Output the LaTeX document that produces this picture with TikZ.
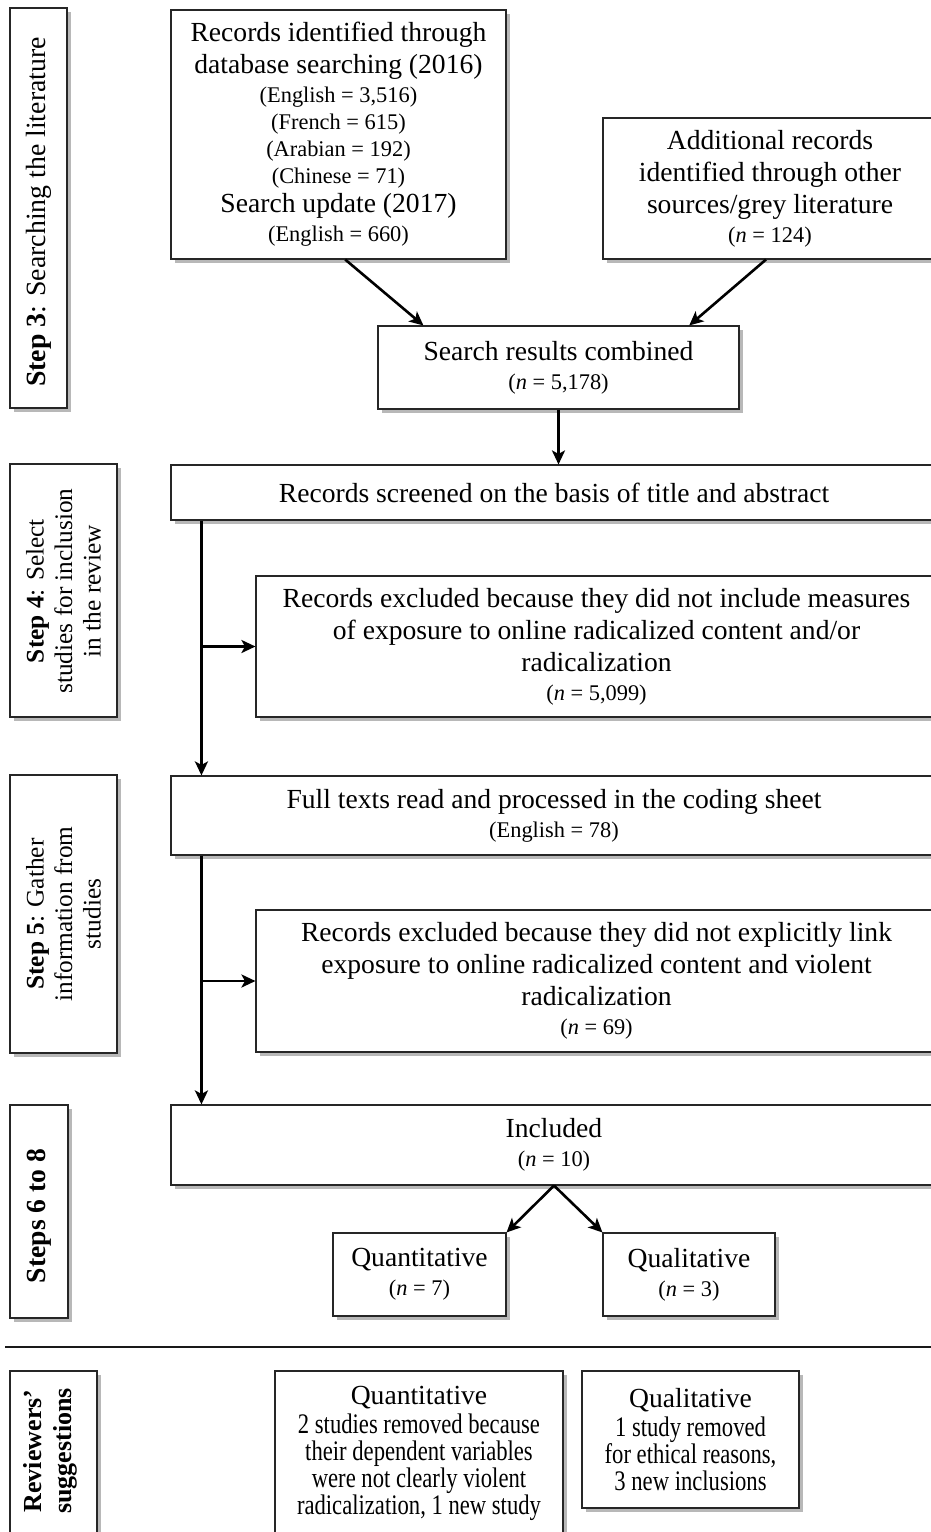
\documentclass[tikz,border=0pt]{standalone}
\usepackage{fontspec}
\setmainfont{Liberation Serif}
\newfontfamily\cnfont[FakeStretch=0.8]{Liberation Serif}
\usetikzlibrary{arrows.meta,shadows,calc}
\newcommand\sm[1]{{\fontsize{22.4}{26}\selectfont #1}}
\newcommand\cn[1]{{\cnfont\fontsize{28.3}{30}\selectfont #1}}
\begin{document}
\begin{tikzpicture}[x=1pt,y=-1pt,
  box/.style={draw=black!85, line width=1.1pt, fill=white, inner sep=0pt, align=center,
    font=\fontsize{27.6}{32}\selectfont,
    drop shadow={shadow xshift=3.5pt, shadow yshift=-3.5pt, fill=black, opacity=0.28}},
  txt/.style={inner sep=0pt, align=center, font=\fontsize{27.6}{32}\selectfont},
  lbl/.style={inner sep=0pt, align=center, rotate=90},
  arr/.style={line width=2.6pt, -{Stealth[length=14pt,width=13pt,inset=3.5pt]}},
  ]
\useasboundingbox (0,0) rectangle (931,1532);
\clip (0,0) rectangle (931,1532);

% step labels
\node[box, minimum width=57pt, minimum height=400pt] (s3) at (38.5,208) {};
\node[lbl, font=\fontsize{27.8}{32}\selectfont] (s3t) at (39,212) {\textbf{Step 3}: Searching the literature};

\node[box, minimum width=107pt, minimum height=253pt] (s4) at (63.5,590.5) {};
\node[lbl, font=\fontsize{25.3}{28.5}\selectfont] (s4t) at (63.5,591) {\textbf{Step 4}: Select\\studies for inclusion\\in the review};

\node[box, minimum width=107pt, minimum height=278pt] (s5) at (63.5,914) {};
\node[lbl, font=\fontsize{25.3}{28.5}\selectfont] (s5t) at (63.5,914) {\textbf{Step 5}: Gather\\information from\\studies};

\node[box, minimum width=58pt, minimum height=213pt] (s68) at (39,1211.5) {};
\node[lbl, font=\fontsize{27.6}{32}\selectfont] (s68t) at (39,1216) {\textbf{Steps 6 to 8}};

\node[box, minimum width=87pt, minimum height=189pt] (rev) at (53.5,1465.5) {};
\node[lbl, font=\bfseries\fontsize{26}{30}\selectfont] (revt) at (50,1451) {Reviewers’\\suggestions};

% separator
\coordinate (sepL) at (5,1347);
\coordinate (sepR) at (936,1347);
\draw[line width=2pt, black!90] (sepL) -- (sepR);

% main flow
\node[box, minimum width=335pt, minimum height=249pt] (top) at (338.5,134.5)
 {Records identified through\\database searching (2016)\\[-3pt]\sm{(English = 3,516)}\\[-5pt]\sm{(French = 615)}\\[-5pt]\sm{(Arabian = 192)}\\[-5pt]\sm{(Chinese = 71)}\\[-3pt]Search update (2017)\\[-3pt]\sm{(English = 660)}};

\node[box, minimum width=334pt, minimum height=141pt] (add) at (770,188.5)
 {Additional records\\identified through other\\sources/grey literature\\[-3pt]\sm{(\textit{n} = 124)}};

\node[box, minimum width=361pt, minimum height=83pt] (comb) at (558.5,367.5)
 {Search results combined\\[-3pt]\sm{(\textit{n} = 5,178)}};

\node[box, minimum width=766pt, minimum height=55pt] (screen) at (554,492.5)
 {Records screened on the basis of title and abstract};

\node[box, minimum width=681pt, minimum height=141pt] (excl1) at (596.5,646.5)
 {Records excluded because they did not include measures\\of exposure to online radicalized content and/or\\radicalization\\[-3pt]\sm{(\textit{n} = 5,099)}};

\node[box, minimum width=766pt, minimum height=79pt] (full) at (554,815.5)
 {Full texts read and processed in the coding sheet\\[-3pt]\sm{(English = 78)}};

\node[box, minimum width=681pt, minimum height=142pt] (excl2) at (596.5,981)
 {Records excluded because they did not explicitly link\\exposure to online radicalized content and violent\\radicalization\\[-3pt]\sm{(\textit{n} = 69)}};

\node[box, minimum width=766pt, minimum height=80pt] (incl) at (554,1145)
 {Included\\[-3pt]\sm{(\textit{n} = 10)}};

\node[box, minimum width=173pt, minimum height=83pt] (quan) at (419.5,1274.5)
 {Quantitative\\[-3pt]\sm{(\textit{n} = 7)}};

\node[box, minimum width=172pt, minimum height=83pt] (qual) at (689,1274.5)
 {Qualitative\\[-3pt]\sm{(\textit{n} = 3)}};

% reviewers' boxes
\node[box, minimum width=288pt, minimum height=189pt] (rq) at (419,1465.5) {};
\node[txt] (rqt) at (419,1453)
 {Quantitative\\[-3pt]\cn{2 studies removed because}\\[-5pt]\cn{their dependent variables}\\[-5pt]\cn{were not clearly violent}\\[-5pt]\cn{radicalization, 1 new study}};

\node[box, minimum width=217pt, minimum height=137pt] (rl) at (690.5,1439.5)
 {Qualitative\\[-3pt]\cn{1 study removed}\\[-5pt]\cn{for ethical reasons,}\\[-5pt]\cn{3 new inclusions}};

% connectors
\draw[arr] ($(top.south west)!0.52!(top.south east)$) -- ($(comb.north west)!0.127!(comb.north east)$);
\draw[arr] ($(add.south west)!0.488!(add.south east)$) -- ($(comb.north west)!0.861!(comb.north east)$);
\draw[arr] (comb.south) -- (comb.south |- screen.north);

\coordinate (t1) at ($(screen.south west)+(31,0)$);
\draw[arr] (t1) -- (t1 |- full.north);
\draw[arr] (t1 |- excl1.west) -- (excl1.west);

\coordinate (t2) at ($(full.south west)+(31,0)$);
\draw[arr] (t2) -- (t2 |- incl.north);
\draw[arr] (t2 |- excl2.west) -- (excl2.west);

\draw[arr] (incl.south) -- (quan.north east);
\draw[arr] (incl.south) -- (qual.north west);
\end{tikzpicture}
\end{document}
